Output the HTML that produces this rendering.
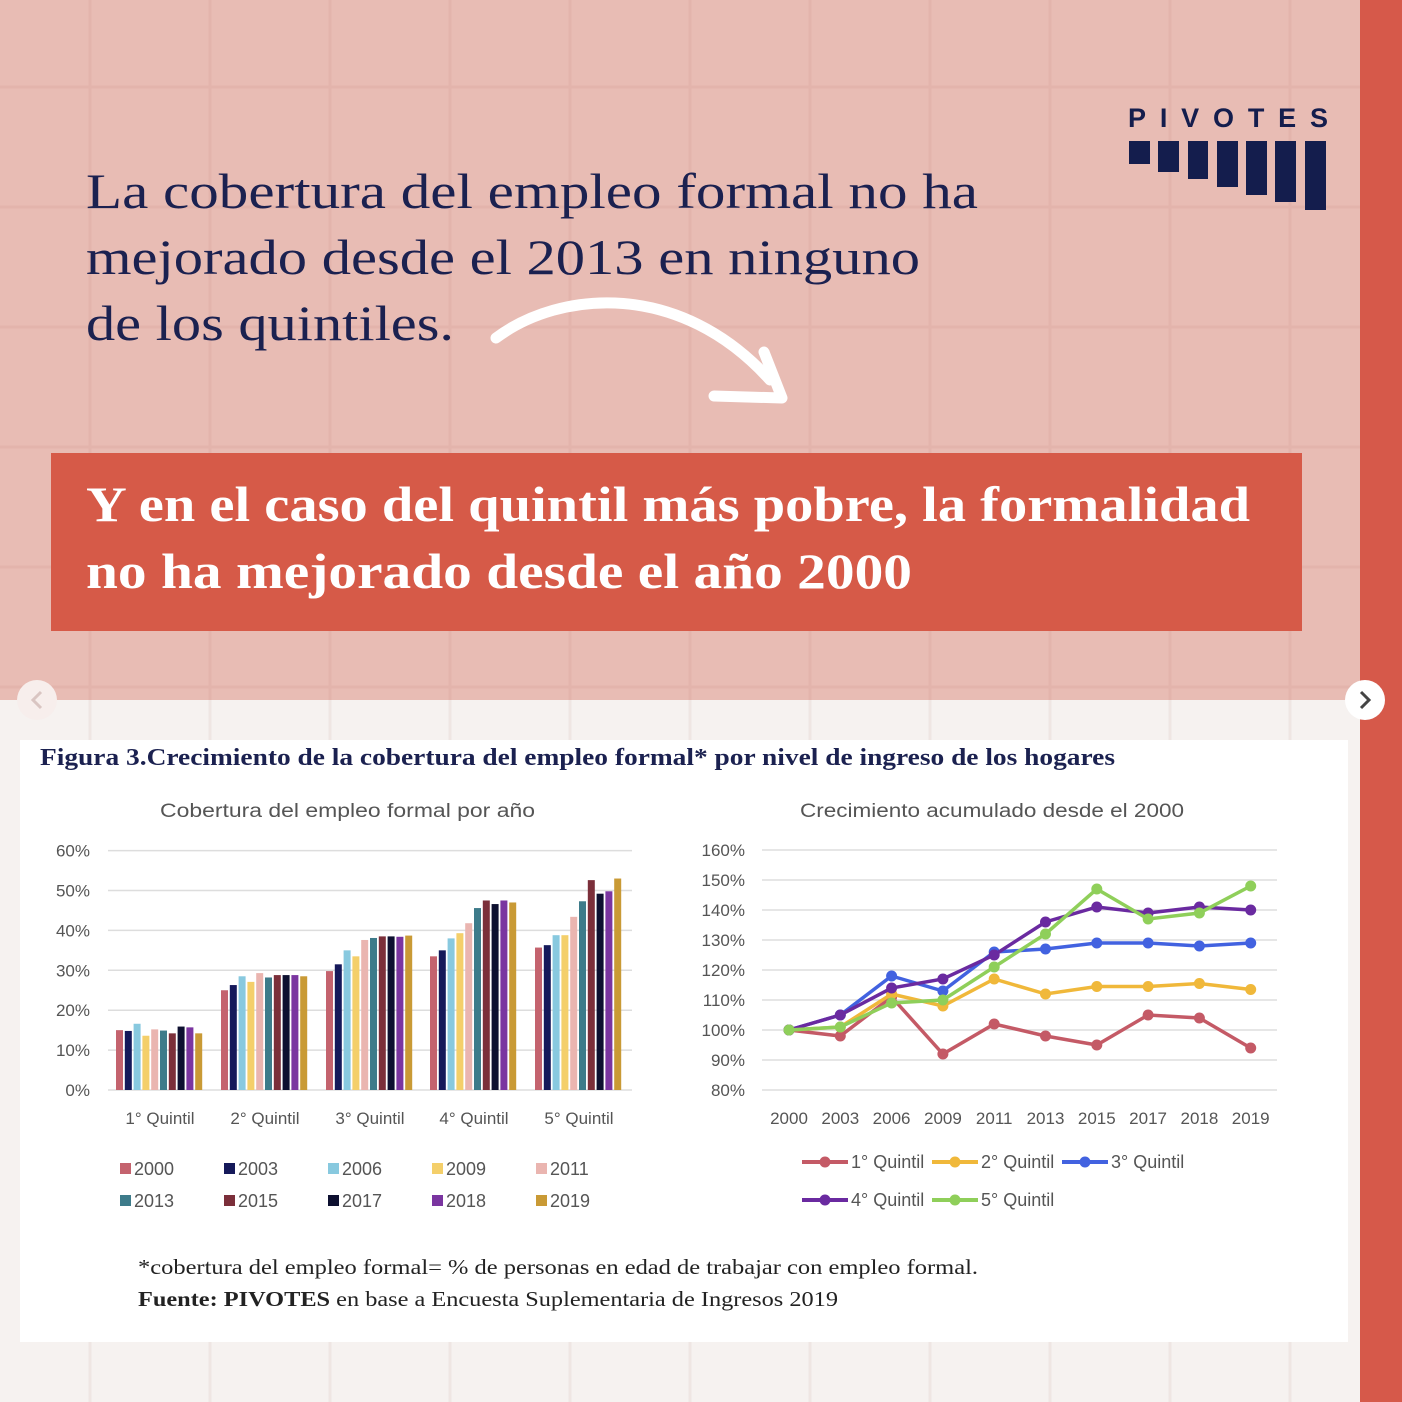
<!DOCTYPE html>
<html><head><meta charset="utf-8">
<style>
body{margin:0;width:1402px;height:1402px;overflow:hidden;background:#f6f2f0;}
svg{display:block}
</style></head>
<body>
<svg id="s" width="1402" height="1402" xmlns="http://www.w3.org/2000/svg">
<rect x="0" y="0" width="1402" height="700" fill="#e8bcb4"/>
<g id="grid" stroke="#dca69e" stroke-width="3" opacity="0.35"></g>
<g id="grid2" stroke="#eadcd8" stroke-width="3" opacity="0.5"></g>
<rect x="1360" y="0" width="42" height="1402" fill="#d6594a"/>
<text x="1128" y="127" font-family="Liberation Sans, sans-serif" font-weight="bold" font-size="27" fill="#141d4d" textLength="200" lengthAdjust="spacing">PIVOTES</text>
<g fill="#141d4d">
<rect x="1129" y="141" width="21" height="23"/>
<rect x="1158" y="141" width="21" height="31"/>
<rect x="1188" y="141" width="20" height="38"/>
<rect x="1217" y="141" width="21" height="46"/>
<rect x="1246" y="141" width="21" height="54"/>
<rect x="1275" y="141" width="21" height="61"/>
<rect x="1305" y="141" width="21" height="69"/>
</g>
<g font-family="Liberation Serif, serif" font-size="50" fill="#1b2150" lengthAdjust="spacingAndGlyphs">
<text x="86" y="208" textLength="892" lengthAdjust="spacingAndGlyphs">La cobertura del empleo formal no ha</text>
<text x="86" y="274" textLength="834" lengthAdjust="spacingAndGlyphs">mejorado desde el 2013 en ninguno</text>
<text x="86" y="340" textLength="368" lengthAdjust="spacingAndGlyphs">de los quintiles.</text>
</g>
<path d="M496 338 C560 290 680 280 770 380" stroke="#fff" stroke-width="11" fill="none" stroke-linecap="round"/>
<path d="M764 352 L782 398 L714 396" stroke="#fff" stroke-width="11" fill="none" stroke-linecap="round" stroke-linejoin="round"/>
<rect x="51" y="453" width="1251" height="178" fill="#d65a48"/>
<g font-family="Liberation Serif, serif" font-weight="bold" font-size="50" fill="#fff">
<text x="86" y="521" textLength="1164" lengthAdjust="spacingAndGlyphs">Y en el caso del quintil más pobre, la formalidad</text>
<text x="86" y="588" textLength="826" lengthAdjust="spacingAndGlyphs">no ha mejorado desde el año 2000</text>
</g>
<circle cx="37" cy="700" r="20" fill="#f7eeec"/>
<path d="M41 692 L33 700 L41 708" stroke="#d9c5c2" stroke-width="3" fill="none"/>
<circle cx="1365" cy="700" r="20" fill="#fff"/>
<path d="M1361 692 L1369 700 L1361 708" stroke="#444" stroke-width="3" fill="none"/>
<rect x="20" y="740" width="1328" height="602" fill="#fff"/>
<text x="40" y="765" font-family="Liberation Serif, serif" font-weight="bold" font-size="24" fill="#1b2150" textLength="1075" lengthAdjust="spacingAndGlyphs">Figura 3.Crecimiento de la cobertura del empleo formal* por nivel de ingreso de los hogares</text>
<g font-family="Liberation Sans, sans-serif" font-size="19" fill="#555">
<text x="160" y="817" textLength="375" lengthAdjust="spacingAndGlyphs">Cobertura del empleo formal por año</text>
<text x="800" y="817" textLength="384" lengthAdjust="spacingAndGlyphs">Crecimiento acumulado desde el 2000</text>
</g>
<g id="bars"></g>
<g id="lines"></g>
<g font-family="Liberation Serif, serif" font-size="21" fill="#222">
<text x="138" y="1274" textLength="840" lengthAdjust="spacingAndGlyphs">*cobertura del empleo formal= % de personas en edad de trabajar con empleo formal.</text>
<text x="138" y="1306" textLength="700" lengthAdjust="spacingAndGlyphs"><tspan font-weight="bold">Fuente: PIVOTES</tspan> en base a Encuesta Suplementaria de Ingresos 2019</text>
</g>
</svg>
<script>
const NS="http://www.w3.org/2000/svg";
function el(p,t,a,txt){const e=document.createElementNS(NS,t);for(const k in a)e.setAttribute(k,a[k]);if(txt!==undefined)e.textContent=txt;p.appendChild(e);return e;}
const g=document.getElementById('grid');
for(let x=90;x<1360;x+=120)el(g,'line',{x1:x,y1:0,x2:x,y2:700});
for(let y=87;y<700;y+=120)el(g,'line',{x1:0,y1:y,x2:1360,y2:y});
const g2=document.getElementById('grid2');
for(let x=90;x<1360;x+=120)el(g2,'line',{x1:x,y1:700,x2:x,y2:1402});
const B=document.getElementById('bars');
const cols=['#c4636e','#15195a','#88c9df','#f4cf6a','#eab5b0','#3d7b8a','#7b2f3a','#0d1030','#7a35a0','#c99a35'];
const data=[[15,14.8,16.6,13.6,15.2,14.9,14.2,15.9,15.7,14.2],[25,26.3,28.5,27.1,29.3,28.2,28.8,28.8,28.8,28.5],[29.8,31.5,35,33.5,37.6,38.1,38.5,38.5,38.4,38.7],[33.5,35,38,39.3,41.8,45.6,47.5,46.6,47.5,47],[35.7,36.3,38.8,38.8,43.4,47.3,52.6,49.2,49.8,53]];
const y0=1090,ppt=3.99;
for(let i=0;i<=6;i++){const y=y0-i*10*ppt;el(B,'line',{x1:108,y1:y,x2:632,y2:y,stroke:'#ddd','stroke-width':1.5});
el(B,'text',{x:90,y:y+6,'text-anchor':'end','font-family':'Liberation Sans, sans-serif','font-size':17,fill:'#555'},(i*10)+'%');}
const cx=[160,265,370,474,579],lab=['1° Quintil','2° Quintil','3° Quintil','4° Quintil','5° Quintil'];
data.forEach((d,gi)=>{d.forEach((v,j)=>{const x=cx[gi]-44+j*8.8;el(B,'rect',{x:x,y:y0-v*ppt,width:7,height:v*ppt,fill:cols[j]});});
el(B,'text',{x:cx[gi],y:1124,'text-anchor':'middle','font-family':'Liberation Sans, sans-serif','font-size':17,fill:'#555'},lab[gi]);});
const yrs=['2000','2003','2006','2009','2011','2013','2015','2017','2018','2019'];
yrs.forEach((t,j)=>{const x=120+(j%5)*104,y=(j<5)?1175:1207;el(B,'rect',{x:x,y:y-12,width:11,height:11,fill:cols[j]});
el(B,'text',{x:x+14,y:y,'font-family':'Liberation Sans, sans-serif','font-size':18,fill:'#555'},t);});
const L=document.getElementById('lines');
const ly0=1090,lp=3;
for(let i=0;i<=8;i++){const y=ly0-i*10*lp;el(L,'line',{x1:762,y1:y,x2:1277,y2:y,stroke:'#ddd','stroke-width':1.5});
el(L,'text',{x:745,y:y+6,'text-anchor':'end','font-family':'Liberation Sans, sans-serif','font-size':17,fill:'#555'},(80+i*10)+'%');}
yrs.forEach((t,j)=>el(L,'text',{x:789+j*51.3,y:1124,'text-anchor':'middle','font-family':'Liberation Sans, sans-serif','font-size':17,fill:'#555'},t));
const ser=[['#c45a66',[100,98,111,92,102,98,95,105,104,94]],['#f0b83a',[100,101,112,108,117,112,114.5,114.5,115.5,113.5]],['#4262e0',[100,105,118,113,126,127,129,129,128,129]],['#6a2aa0',[100,105,114,117,125,136,141,139,141,140]],['#8fcf5a',[100,101,109,110,121,132,147,137,139,148]]];
ser.forEach(([c,v])=>{const pts=v.map((p,j)=>[789+j*51.3,ly0-(p-80)*lp]);
el(L,'polyline',{points:pts.map(p=>p.join(',')).join(' '),fill:'none',stroke:c,'stroke-width':3.5});
pts.forEach(p=>el(L,'circle',{cx:p[0],cy:p[1],r:5.5,fill:c}));});
const leg=[[802,1162,0,'1° Quintil'],[932,1162,1,'2° Quintil'],[1062,1162,2,'3° Quintil'],[802,1200,3,'4° Quintil'],[932,1200,4,'5° Quintil']];
leg.forEach(([x,y,i,t])=>{const c=ser[i][0];el(L,'line',{x1:x,y1:y,x2:x+46,y2:y,stroke:c,'stroke-width':4});el(L,'circle',{cx:x+23,cy:y,r:5.5,fill:c});
el(L,'text',{x:x+49,y:y+6,'font-family':'Liberation Sans, sans-serif','font-size':18,fill:'#555'},t);});
</script>
</body></html>
